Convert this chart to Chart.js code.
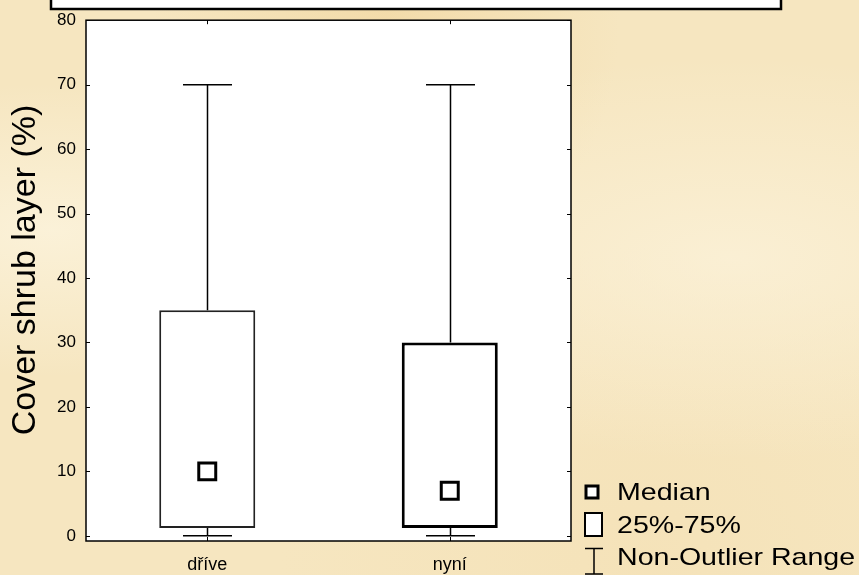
<!DOCTYPE html>
<html>
<head>
<meta charset="utf-8">
<title>Cover shrub layer</title>
<script src="https://cdn.jsdelivr.net/npm/chart.js@4.4.1/dist/chart.umd.min.js"></script>
<style>
    html, body { margin: 0; padding: 0; }
    body {
        width: 859px;
        height: 575px;
        overflow: hidden;
        background-color: #f6e6c0;
        background-image:
            radial-gradient(ellipse at 6% 40%, rgba(252, 244, 222, 0.8), rgba(252, 244, 222, 0) 30%),
            radial-gradient(ellipse at 85% 45%, rgba(252, 243, 220, 0.7), rgba(252, 243, 220, 0) 45%),
            radial-gradient(ellipse at 45% 3%, rgba(240, 212, 155, 0.6), rgba(240, 212, 155, 0) 35%),
            radial-gradient(ellipse at 75% 98%, rgba(244, 224, 180, 0.6), rgba(244, 224, 180, 0) 40%);
    }
    #wrap { position: relative; width: 859px; height: 575px; }
</style>
</head>
<body>
<div id="wrap"><canvas id="chart" width="859" height="575"></canvas></div>
<script>
// ==========================================
// DATOS
// ==========================================

const categories = ['dříve', 'nyní'];
const boxLow = [1.2, 1.2];      // 25 %
const boxHigh = [35, 30];       // 75 %
const medians = [10, 7];
const whiskerLow = [0, 0];
const whiskerHigh = [70, 70];
const yTicks = [0, 10, 20, 30, 40, 50, 60, 70, 80];
const yTitle = 'Cover shrub layer (%)';
const legendLabels = ['Median', '25%-75%', 'Non-Outlier Range'];

const FONT = "'Liberation Sans', Arial, sans-serif";

// ==========================================
// PLUGINS
// ==========================================

// fondo blanco del área, caja superior y título del eje Y
const backgroundPlugin = {
    id: 'background',
    beforeDraw(chart) {
        const { ctx, chartArea: a } = chart;
        ctx.save();
        ctx.fillStyle = '#fff';
        ctx.fillRect(a.left, a.top, a.right - a.left, a.bottom - a.top);

        // caja del título (cortada arriba)
        ctx.fillRect(51, -4, 730, 13);
        ctx.strokeStyle = '#000';
        ctx.lineWidth = 2.5;
        ctx.strokeRect(51, -4, 730, 13);

        // título eje Y
        ctx.translate(26, 270);
        ctx.rotate(-Math.PI / 2);
        ctx.fillStyle = '#000';
        ctx.font = '34px ' + FONT;
        ctx.textAlign = 'center';
        ctx.textBaseline = 'middle';
        ctx.fillText(yTitle, 0, 0);
        ctx.restore();
    }
};

// bigotes (rango sin valores atípicos)
const whiskerPlugin = {
    id: 'whiskers',
    afterDatasetsDraw(chart) {
        const { ctx } = chart;
        const x = chart.scales.x;
        const y = chart.scales.y;
        const bars = chart.getDatasetMeta(0).data;
        ctx.save();
        ctx.strokeStyle = '#000';
        ctx.lineWidth = 1.5;
        categories.forEach((c, i) => {
            const px = Math.round(x.getPixelForValue(i)) + 0.5;
            const half = bars[i].width * 0.255;
            const yHi = y.getPixelForValue(whiskerHigh[i]);
            const yLo = y.getPixelForValue(whiskerLow[i]);
            ctx.beginPath();
            ctx.moveTo(px, y.getPixelForValue(boxHigh[i]));
            ctx.lineTo(px, yHi);
            ctx.moveTo(px - half, yHi);
            ctx.lineTo(px + half, yHi);
            ctx.moveTo(px, y.getPixelForValue(boxLow[i]));
            ctx.lineTo(px, yLo);
            ctx.moveTo(px - half, yLo);
            ctx.lineTo(px + half, yLo);
            ctx.stroke();
        });
        ctx.restore();
    }
};

// marco con marcas hacia dentro + leyenda
const framePlugin = {
    id: 'frame',
    afterDraw(chart) {
        const { ctx, chartArea: a } = chart;
        const x = chart.scales.x;
        const y = chart.scales.y;
        const t = 4;
        ctx.save();
        ctx.strokeStyle = '#000';
        ctx.lineWidth = 1.5;
        ctx.strokeRect(a.left, a.top, a.right - a.left, a.bottom - a.top);
        ctx.beginPath();
        yTicks.forEach(v => {
            const py = Math.round(y.getPixelForValue(v)) + 0.5;
            ctx.moveTo(a.left, py); ctx.lineTo(a.left + t, py);
            ctx.moveTo(a.right, py); ctx.lineTo(a.right - t, py);
        });
        categories.forEach((c, i) => {
            const px = Math.round(x.getPixelForValue(i)) + 0.5;
            ctx.moveTo(px, a.top); ctx.lineTo(px, a.top + t);
            ctx.moveTo(px, a.bottom); ctx.lineTo(px, a.bottom - t);
        });
        ctx.lineWidth = 1;
        ctx.stroke();

        // leyenda
        ctx.strokeStyle = '#000';
        ctx.fillStyle = '#fff';
        ctx.lineWidth = 3;
        ctx.fillRect(586, 486, 12, 12);
        ctx.strokeRect(586, 486, 12, 12);

        ctx.lineWidth = 2;
        ctx.fillRect(585, 513, 17, 23);
        ctx.strokeRect(585, 513, 17, 23);

        ctx.lineWidth = 1.5;
        ctx.beginPath();
        ctx.moveTo(585, 548.5); ctx.lineTo(603, 548.5);
        ctx.moveTo(594, 548.5); ctx.lineTo(594, 574);
        ctx.moveTo(585, 574); ctx.lineTo(603, 574);
        ctx.stroke();

        ctx.fillStyle = '#000';
        ctx.font = '24px ' + FONT;
        ctx.textBaseline = 'alphabetic';
        const baselines = [500, 533, 564.5];
        legendLabels.forEach((txt, i) => {
            ctx.save();
            ctx.translate(617, baselines[i]);
            ctx.scale(1.19, 1);
            ctx.fillText(txt, 0, 0);
            ctx.restore();
        });
        ctx.restore();
    }
};

// ==========================================
// GRÁFICO
// ==========================================

new Chart(document.getElementById('chart'), {
    type: 'bar',
    data: {
        labels: categories,
        datasets: [{
            label: '25%-75%',
            data: categories.map((c, i) => [boxLow[i], boxHigh[i]]),
            backgroundColor: '#fff',
            borderColor: ['#222', '#000'],
            borderWidth: [2, 3],
            borderSkipped: false,
            barPercentage: 0.396,
            categoryPercentage: 1,
            order: 1
        }, {
            type: 'line',
            label: 'Median',
            data: medians,
            showLine: false,
            pointStyle: 'rect',
            pointRadius: 12,
            pointHoverRadius: 12,
            pointBorderWidth: 3,
            pointBackgroundColor: '#fff',
            pointBorderColor: '#000',
            order: 0
        }]
    },
    options: {
        responsive: false,
        animation: false,
        devicePixelRatio: 1,
        layout: { padding: { left: 0, top: 18, right: 288, bottom: 0 } },
        plugins: {
            legend: { display: false },
            tooltip: { enabled: false }
        },
        scales: {
            x: {
                offset: true,
                grid: { display: false, drawTicks: false },
                border: { display: false },
                ticks: {
                    color: '#000',
                    padding: 13,
                    font: { family: FONT, size: 18 }
                },
                afterFit: s => { s.height = 34; }
            },
            y: {
                min: -0.8,
                max: 80,
                grid: { display: false, drawTicks: false },
                border: { display: false },
                afterBuildTicks: s => { s.ticks = yTicks.map(v => ({ value: v })); },
                ticks: {
                    color: '#000',
                    padding: 10,
                    font: { family: FONT, size: 17 }
                },
                afterFit: s => { s.width = 86; }
            }
        }
    },
    plugins: [backgroundPlugin, whiskerPlugin, framePlugin]
});
</script>
</body>
</html>
